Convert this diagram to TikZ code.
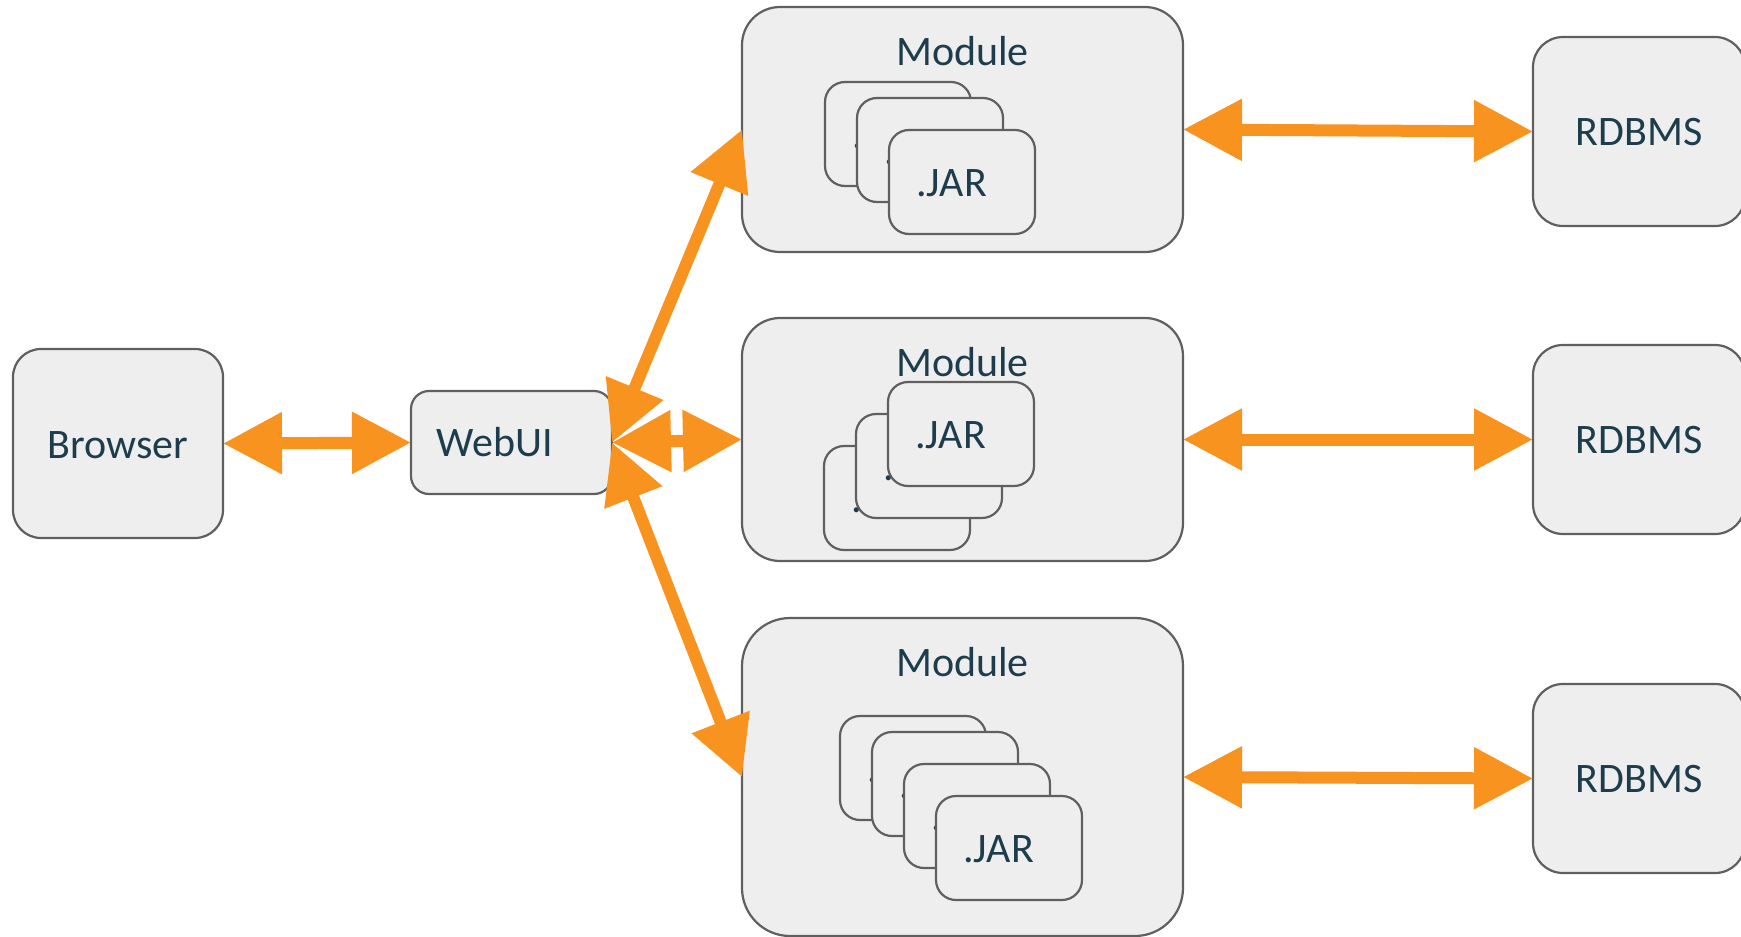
\documentclass[tikz,border=0pt]{standalone}
\usepackage{fontspec}
\setmainfont{Carlito}
\usetikzlibrary{arrows.meta}
\definecolor{boxfill}{HTML}{EEEEEE}
\definecolor{boxline}{HTML}{5F5F5F}
\definecolor{ink}{HTML}{1E3D4C}
\definecolor{flow}{HTML}{F8931F}

\begin{document}
\begin{tikzpicture}[x=0.5pt,y=-0.5pt,
  box/.style={draw=boxline, fill=boxfill, line width=1.1pt, inner sep=0pt, outer sep=0pt, rectangle},
  endpoint/.style={box, minimum width=105pt, minimum height=94.5pt, rounded corners=14pt},
  dbbox/.style={box, minimum width=106pt, minimum height=94.5pt, rounded corners=15pt},
  module/.style={box, minimum width=220.5pt, rounded corners=19pt},
  jar/.style={box, minimum width=73pt, minimum height=52pt, rounded corners=10pt},
  txt/.style={text=ink, font=\fontsize{21pt}{25pt}\selectfont, inner sep=0pt, outer sep=0pt},
  jartxt/.style={txt, anchor=base west},
  ttl/.style={txt, anchor=base},
  bigarrow/.style={draw=flow, line width=6pt,
    {Triangle[length=29.5pt,width=29.5pt]}-{Triangle[length=29.5pt,width=29.5pt]},
    preaction={draw=black, opacity=0.12, transform canvas={shift={(1.5pt,-2pt)}}}}
]
\useasboundingbox (0,0) rectangle (1741,937);

% client side
\node[endpoint] (browser) at (118,443.5) {};
\node[ttl] (browsert) at (118,458) {Browser};
\node[box, minimum width=100.5pt, minimum height=51.5pt, rounded corners=9pt] (webui) at (511.5,442.5) {};
\node[ttl] (webuit) at (494.5,456) {WebUI};

% module containers
\node[module, minimum height=122.5pt] (mod1) at (962.5,129.5) {};
\node[ttl] (mod1t) at (962.5,65) {Module};
\node[module, minimum height=121.5pt] (mod2) at (962.5,439.5) {};
\node[ttl] (mod2t) at (962.5,376) {Module};
\node[module, minimum height=159pt, rounded corners=24pt] (mod3) at (962.5,777) {};
\node[ttl] (mod3t) at (962.5,676) {Module};

% jar stacks, back to front; only the leading dot of a covered label shows
\node[jar] (j1a) at (898,134) {};
\node[jartxt] (j1at) at ([shift={(27,66)}]j1a.north west) {.};
\node[jar] (j1b) at (930,150) {};
\node[jartxt] (j1bt) at ([shift={(27,66)}]j1b.north west) {.};
\node[jar] (j1c) at (962,182) {};
\node[jartxt] (j1ct) at ([shift={(27,66)}]j1c.north west) {.JAR};

\node[jar] (j2a) at (897,498) {};
\node[jartxt] (j2at) at ([shift={(27,66)}]j2a.north west) {.};
\node[jar] (j2b) at (929,466) {};
\node[jartxt] (j2bt) at ([shift={(27,66)}]j2b.north west) {.};
\node[jar] (j2c) at (961,434) {};
\node[jartxt] (j2ct) at ([shift={(27,66)}]j2c.north west) {.JAR};

\node[jar] (j3a) at (913,768) {};
\node[jartxt] (j3at) at ([shift={(27,66)}]j3a.north west) {.};
\node[jar] (j3b) at (945,784) {};
\node[jartxt] (j3bt) at ([shift={(27,66)}]j3b.north west) {.};
\node[jar] (j3c) at (977,816) {};
\node[jartxt] (j3ct) at ([shift={(27,66)}]j3c.north west) {.};
\node[jar] (j3d) at (1009,848) {};
\node[jartxt] (j3dt) at ([shift={(27,66)}]j3d.north west) {.JAR};

% databases
\node[dbbox] (db1) at (1639,131.5) {};
\node[ttl] (db1t) at (1639,145) {RDBMS};
\node[dbbox] (db2) at (1639,439.5) {};
\node[ttl] (db2t) at (1639,453) {RDBMS};
\node[dbbox] (db3) at (1639,778.5) {};
\node[ttl] (db3t) at (1639,792) {RDBMS};

% connections
\draw[bigarrow] (browser.east) -- (webui.west);
\draw[bigarrow] (webui.east) -- (mod1.west);
\draw[bigarrow] (webui.east) -- (mod2.west);
\draw[bigarrow] (webui.east) -- (mod3.west);
\draw[bigarrow] (mod1.east) -- (db1.west);
\draw[bigarrow] (mod2.east) -- (db2.west);
\draw[bigarrow] (mod3.east) -- (db3.west);
\end{tikzpicture}
\end{document}
